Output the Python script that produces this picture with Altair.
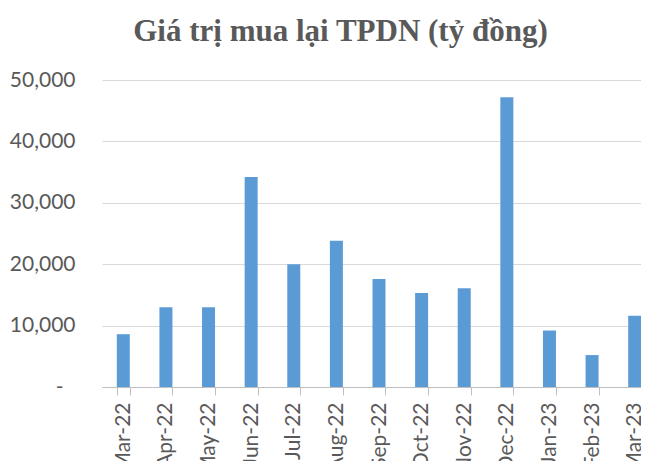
import altair as alt
import pandas as pd

months = ["Mar-22", "Apr-22", "May-22", "Jun-22", "Jul-22", "Aug-22", "Sep-22",
          "Oct-22", "Nov-22", "Dec-22", "Jan-23", "Feb-23", "Mar-23"]
values = [8600, 13000, 13000, 34200, 20000, 23800, 17600,
          15300, 16100, 47200, 9200, 5200, 11600]

df = pd.DataFrame({"month": months, "value": values})

label_font = "Lato"
gray = "#595959"

chart = alt.Chart(df).mark_bar(color="#5B9BD5").encode(
    x=alt.X("month:N", sort=months, title=None,
            scale=alt.Scale(paddingInner=0.695, paddingOuter=0.3475, range=[0, 554]),
            axis=alt.Axis(labelAngle=-90, labelFont=label_font, labelFontSize=21,
                          labelColor=gray, tickBand="extent", tickSize=8,
                          tickColor="#bfbfbf", domainColor="#bfbfbf",
                          labelPadding=7, grid=False)),
    y=alt.Y("value:Q", title=None,
            scale=alt.Scale(domain=[0, 50000], nice=False),
            axis=alt.Axis(values=[0, 10000, 20000, 30000, 40000, 50000],
                          labelExpr="datum.value == 0 ? '-' : format(datum.value, ',')",
                          labelFont=label_font, labelFontSize=21, labelColor=gray,
                          ticks=False, domain=False,
                          labelPadding={"condition": {"test": "datum.value == 0", "value": 39},
                                        "value": 27},
                          gridColor="#d9d9d9", gridWidth=1.2)),
).properties(
    width=539,
    height=307,
    title=alt.TitleParams("Giá trị mua lại TPDN (tỷ đồng)", font="Liberation Serif",
                          fontSize=31, fontWeight="bold", color=gray,
                          anchor="middle", dx=-31, offset=21),
    autosize=alt.AutoSizeParams(type="none"),
    padding={"left": 94, "top": 72, "right": 0, "bottom": 74},
).configure_view(stroke=None)

chart.save("out.html", embed_options={"renderer": "svg", "actions": False})
